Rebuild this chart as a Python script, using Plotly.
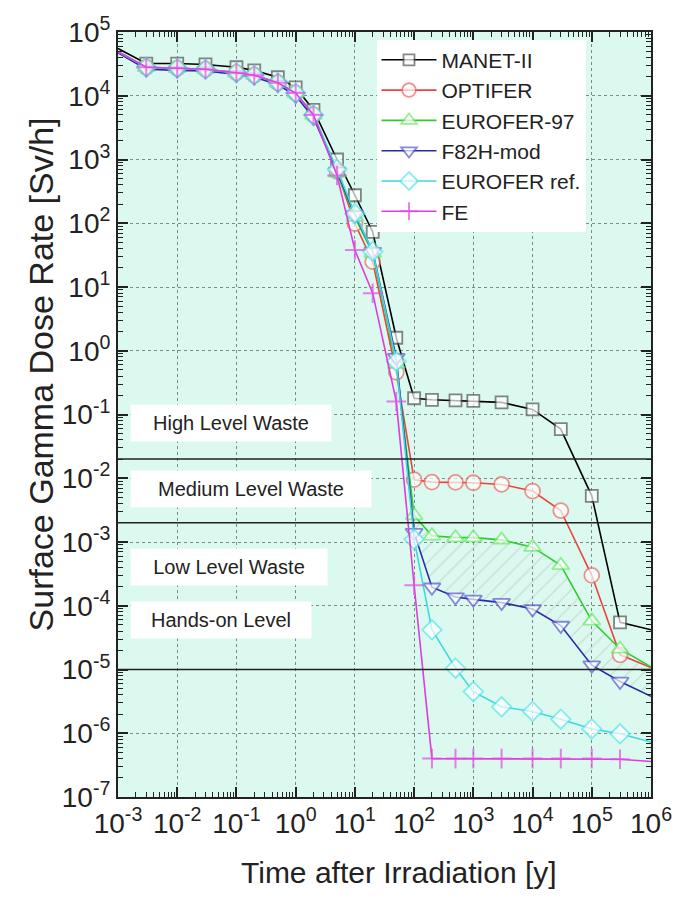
import plotly.graph_objects as go

# ---------------- data ----------------
time_y = [1e-3, 3e-3, 1e-2, 3e-2, 0.1, 0.2, 0.5, 1, 2, 5, 10, 20, 50, 100,
          200, 500, 1e3, 3e3, 1e4, 3e4, 1e5, 3e5, 1e6]

manet_ii = [5.5e4, 3.2e4, 3.2e4, 3.1e4, 2.8e4, 2.5e4, 1.95e4, 1.35e4, 6.0e3, 1.0e3, 2.75e2, 73, 1.6, 0.18,
            0.17, 0.166, 0.163, 0.155, 0.12, 0.059, 5.3e-3, 5.5e-5, 4.2e-5]
optifer = [4.9e4, 2.8e4, 2.7e4, 2.6e4, 2.3e4, 2.1e4, 1.6e4, 1.1e4, 5.0e3, 6.5e2, 99, 25, 0.46, 9.5e-3,
           8.7e-3, 8.6e-3, 8.5e-3, 8.0e-3, 6.3e-3, 3.1e-3, 3.0e-4, 1.7e-5, 1.07e-5]
eurofer_97 = [4.9e4, 2.8e4, 2.7e4, 2.6e4, 2.3e4, 2.1e4, 1.6e4, 1.1e4, 5.0e3, 6.2e2, 125, 34, 0.62, 2.6e-3,
              1.25e-3, 1.17e-3, 1.17e-3, 1.08e-3, 8.3e-4, 4.3e-4, 5.8e-5, 2.1e-5, 1.1e-5]
f82h_mod = [4.7e4, 2.6e4, 2.5e4, 2.45e4, 2.15e4, 1.95e4, 1.5e4, 1.0e4, 4.5e3, 6.5e2, 135, 36, 0.78, 1.4e-3,
            1.95e-4, 1.37e-4, 1.26e-4, 1.12e-4, 8.9e-5, 4.9e-5, 1.17e-5, 6.5e-6, 3.8e-6]
eurofer_ref = [4.9e4, 2.8e4, 2.7e4, 2.6e4, 2.3e4, 2.1e4, 1.6e4, 1.1e4, 5.0e3, 7.0e2, 141, 36, 0.68, 1.1e-3,
               4.2e-5, 1.05e-5, 4.5e-6, 2.6e-6, 2.2e-6, 1.66e-6, 1.17e-6, 9.8e-7, 7.3e-7]
fe = [4.9e4, 2.8e4, 2.7e4, 2.6e4, 2.3e4, 2.1e4, 1.6e4, 1.1e4, 5.0e3, 5.6e2, 38, 8, 0.16, 2.1e-4,
      4.0e-7, 4.0e-7, 4.0e-7, 4.0e-7, 4.0e-7, 4.0e-7, 4.0e-7, 3.9e-7, 3.6e-7]

series_names = ["MANET-II", "OPTIFER", "EUROFER-97", "F82H-mod", "EUROFER ref.", "FE"]
waste_limits = [2e-2, 2e-3, 1e-5]
waste_labels = ["High Level Waste", "Medium Level Waste", "Low Level Waste", "Hands-on Level"]
hatch_start = 13  # index of t = 100 y

x_tickvals = [1e-3, 1e-2, 1e-1, 1, 10, 100, 1e3, 1e4, 1e5, 1e6]
x_ticktext = ["10<sup>-3</sup>", "10<sup>-2</sup>", "10<sup>-1</sup>", "10<sup>0</sup>", "10<sup>1</sup>",
              "10<sup>2</sup>", "10<sup>3</sup>", "10<sup>4</sup>", "10<sup>5</sup>", "10<sup>6</sup>"]
y_tickvals = [1e-7, 1e-6, 1e-5, 1e-4, 1e-3, 1e-2, 1e-1, 1, 10, 100, 1e3, 1e4, 1e5]
y_ticktext = ["10<sup>-7</sup>", "10<sup>-6</sup>", "10<sup>-5</sup>", "10<sup>-4</sup>", "10<sup>-3</sup>",
              "10<sup>-2</sup>", "10<sup>-1</sup>", "10<sup>0</sup>", "10<sup>1</sup>", "10<sup>2</sup>",
              "10<sup>3</sup>", "10<sup>4</sup>", "10<sup>5</sup>"]
x_title = "Time after Irradiation [y]"
y_title = "Surface Gamma Dose Rate [Sv/h]"

# ---------------- styles ----------------
FONT = "Liberation Sans, Arial, sans-serif"
styles = [
    dict(line="#000000", mk="#555555", sym="square", size=12),
    dict(line="#e8463c", mk="#ee6a64", sym="circle", size=15),
    dict(line="#2ecc2e", mk="#66ee66", sym="triangle-up", size=15),
    dict(line="#2a2aa8", mk="#5a5acc", sym="triangle-down", size=15),
    dict(line="#3ed8e0", mk="#5ae6ec", sym="diamond", size=15),
    dict(line="#dd3ddd", mk="#e24ee2", sym="cross-thin", size=14),
]
all_series = [manet_ii, optifer, eurofer_97, f82h_mod, eurofer_ref, fe]

fig = go.Figure()

# hatched band between EUROFER-97 and F82H-mod
fig.add_trace(go.Scatter(x=time_y[hatch_start:], y=f82h_mod[hatch_start:], mode="lines",
                         line=dict(width=0), showlegend=False, hoverinfo="skip"))
fig.add_trace(go.Scatter(x=time_y[hatch_start:], y=eurofer_97[hatch_start:], mode="lines",
                         line=dict(width=0), fill="tonexty", fillcolor="rgba(0,0,0,0)",
                         fillpattern=dict(shape="/", fgcolor="#b4c4bc", bgcolor="rgba(0,0,0,0)",
                                          size=11, solidity=0.12),
                         showlegend=False, hoverinfo="skip"))

n = len(time_y)
for name, ys, st in zip(series_names, all_series, styles):
    sizes = [0] + [st["size"]] * (n - 2) + [0]
    is_cross = st["sym"] == "cross-thin"
    fig.add_trace(go.Scatter(
        x=time_y, y=ys, name=name, mode="lines+markers",
        line=dict(color=st["line"], width=1.6),
        marker=dict(symbol=st["sym"], size=sizes,
                    color=st["mk"] if is_cross else "white",
                    line=dict(color=st["mk"], width=1.8 if not is_cross else 2)),
    ))

for v in waste_limits:
    fig.add_hline(y=v, line=dict(color="#222222", width=1.6), layer="above")

# waste class labels (paper coordinates)
label_pos = [(0.489, 198), (0.403, 238), (0.301, 194), (0.232, 178)]
for txt, (yy, w) in zip(waste_labels, label_pos):
    fig.add_annotation(text=txt, xref="paper", yref="paper", x=0.022, y=yy,
                       xanchor="left", yanchor="middle", showarrow=False,
                       bgcolor="white", width=w, height=34, align="center",
                       font=dict(family=FONT, size=20, color="#222222"))

# axis titles
fig.add_annotation(text=y_title, xref="paper", yref="paper", x=-0.145, y=0.552,
                   xanchor="center", yanchor="middle", textangle=-90, showarrow=False,
                   font=dict(family=FONT, size=34, color="#222222"))
fig.add_annotation(text=x_title, xref="paper", yref="paper", x=0.528, y=-0.099,
                   xanchor="center", yanchor="middle", showarrow=False,
                   font=dict(family=FONT, size=30, color="#222222"))

minor_vals = [m * 10 ** k for k in range(-8, 7) for m in range(2, 10)]

axis_common = dict(
    showline=True, linecolor="#222222", linewidth=2, mirror="allticks",
    ticks="inside", ticklen=10, tickwidth=1.5, tickcolor="#222222",
    showgrid=True, gridcolor="#7a8a84", gridwidth=1, griddash="dot",
    zeroline=False, tickmode="array",
    tickfont=dict(family=FONT, size=28, color="#222222"),
    minor=dict(ticks="inside", ticklen=5, tickwidth=1.2, tickcolor="#222222",
               tickmode="array", tickvals=minor_vals, showgrid=False),
)

fig.update_xaxes(type="log", range=[-3, 6], tickvals=x_tickvals, ticktext=x_ticktext,
                 **axis_common)
fig.update_yaxes(type="log", range=[-7, 5], tickvals=y_tickvals, ticktext=y_ticktext,
                 **axis_common)

fig.update_layout(
    width=684, height=906,
    margin=dict(l=118, r=22, t=25, b=109),
    paper_bgcolor="white", plot_bgcolor="#dcf9ef",
    font=dict(family=FONT, color="#222222"),
    legend=dict(x=0.485, y=0.99, xanchor="left", yanchor="top",
                traceorder="normal",
                bgcolor="white", borderwidth=0,
                font=dict(family=FONT, size=21, color="#222222"),
                itemwidth=55, entrywidth=240, tracegroupgap=0),
    showlegend=True,
)

fig.write_html("out.html")
